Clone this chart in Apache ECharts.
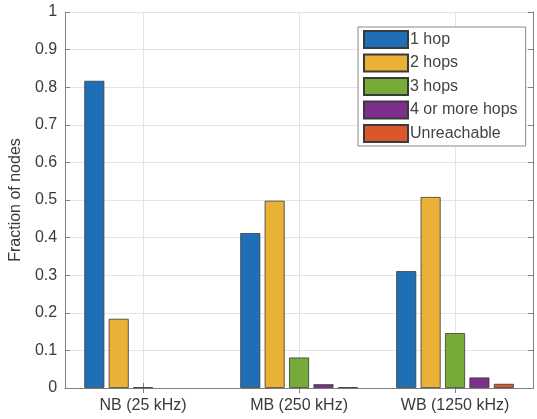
<!DOCTYPE html>
<html><head><meta charset="utf-8">
<script src="https://cdn.jsdelivr.net/npm/echarts@6/dist/echarts.min.js"></script>
<style>html,body{margin:0;padding:0;background:#fff}#c{width:537px;height:419px}</style>
</head><body><div id="c"></div><script>
var categories = ['NB (25 kHz)', 'MB (250 kHz)', 'WB (1250 kHz)'];
var seriesNames = ['1 hop', '2 hops', '3 hops', '4 or more hops', 'Unreachable'];
var hop1 = [0.817, 0.412, 0.311];
var hop2 = [0.184, 0.498, 0.508];
var hop3 = [0.002, 0.081, 0.146];
var hop4 = [0, 0.01, 0.028];
var unreachable = [0, 0.002, 0.011];
var yTicks = [0, 0.1, 0.2, 0.3, 0.4, 0.5, 0.6, 0.7, 0.8, 0.9, 1];
var colors = ['#1f6fb6', '#e9b135', '#76ab3a', '#7e2f8e', '#d9572a'];

var values = [hop1, hop2, hop3, hop4, unreachable];
var font = 'Liberation Sans, Arial, sans-serif';
var axisColor = '#808080';
var textColor = '#3a3a3a';

var series = seriesNames.map(function (n, i) {
  return {
    name: n, type: 'bar',
    data: values[i].map(function (v) {
      return v === 0 ? { value: v, itemStyle: { borderWidth: 0 } } : v;
    }),
    xAxisIndex: 0, yAxisIndex: 0,
    barWidth: 20, barGap: '22%',
    itemStyle: { color: colors[i], borderColor: '#3a3a3a', borderWidth: 0.8 }
  };
});

var chart = echarts.init(document.getElementById('c'), null, { renderer: 'canvas' });
chart.setOption({
  animation: false,
  backgroundColor: '#fff',
  textStyle: { fontFamily: font },
  grid: { left: 60, right: 4, top: 12, bottom: 31, containLabel: false },
  legend: {
    orient: 'vertical', left: 358, top: 27,
    itemWidth: 44, itemHeight: 17, itemGap: 4.5,
    padding: [3, 8, 3, 5],
    backgroundColor: '#fff', borderColor: '#8a8a8a', borderWidth: 1,
    textStyle: { fontSize: 16, color: '#444', fontFamily: font, padding: [0, 0, 0, -3] },
    icon: 'rect',
    data: seriesNames
  },
  xAxis: [{
    type: 'category', data: categories, position: 'bottom',
    boundaryGap: true,
    axisLine: { show: true, lineStyle: { color: axisColor, width: 1 } },
    axisTick: { show: true, inside: true, alignWithLabel: true, length: 5, lineStyle: { color: axisColor } },
    axisLabel: { fontSize: 16, color: textColor, margin: 10, fontFamily: font },
    splitLine: { show: true, alignWithLabel: true, lineStyle: { color: '#e4e4e4', width: 1 } }
  }, {
    type: 'category', data: categories, position: 'top',
    boundaryGap: true,
    axisLine: { show: true, lineStyle: { color: axisColor, width: 1 } },
    axisTick: { show: true, inside: true, alignWithLabel: true, length: 5, lineStyle: { color: axisColor } },
    axisLabel: { show: false },
    splitLine: { show: false }
  }],
  yAxis: [{
    type: 'value', min: 0, max: 1, interval: 0.1,
    axisLine: { show: true, lineStyle: { color: axisColor, width: 1 } },
    axisTick: { show: true, inside: true, length: 5, lineStyle: { color: axisColor } },
    axisLabel: { fontSize: 16, color: textColor, margin: 8, fontFamily: font,
      formatter: function (v) { return String(Math.round(v * 10) / 10); } },
    splitLine: { show: true, lineStyle: { color: '#e4e4e4', width: 1 } },
    name: 'Fraction of nodes', nameLocation: 'middle', nameGap: 35,
    nameTextStyle: { fontSize: 16, color: textColor, fontFamily: font }
  }, {
    type: 'value', min: 0, max: 1, interval: 0.1, position: 'right',
    axisLine: { show: true, lineStyle: { color: axisColor, width: 1 } },
    axisTick: { show: true, inside: true, length: 5, lineStyle: { color: axisColor } },
    axisLabel: { show: false },
    splitLine: { show: false }
  }],
  series: series
});
</script></body></html>
